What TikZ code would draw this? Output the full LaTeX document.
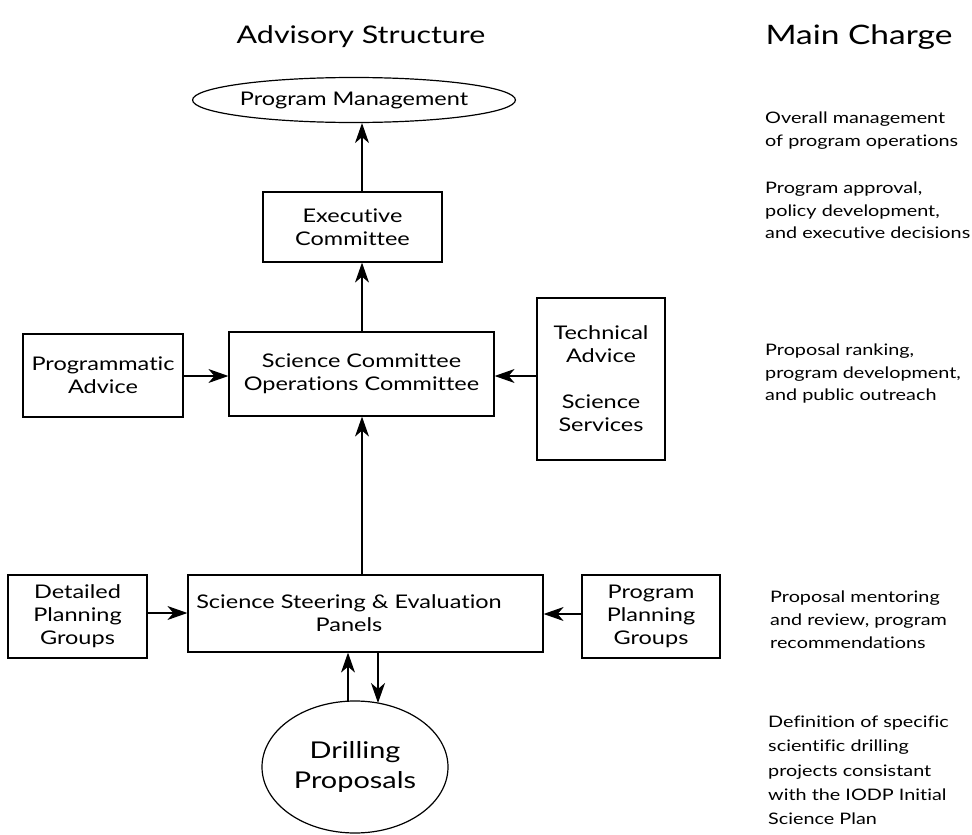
\documentclass[tikz,border=0pt]{standalone}
\usepackage{fontspec}
\setmainfont{Lato}[FakeStretch=1.25,Ligatures={NoCommon}]
\usetikzlibrary{arrows.meta,shapes.geometric}
\begin{document}
\begin{tikzpicture}[x=1pt,y=-1pt,
  box/.style={draw,line width=1.2pt,align=center,inner sep=0pt,font=\fontsize{18.8}{23}\selectfont},
  oval/.style={draw,ellipse,line width=1.2pt,align=center,inner sep=0pt},
  arr/.style={-{Stealth[length=20pt,width=14pt,inset=6pt]},line width=1.2pt},
  charge/.style={anchor=north west,align=left,inner sep=0pt,font=\fontsize{15.85}{22.5}\selectfont},
  title/.style={inner sep=0pt}]
\useasboundingbox (0,0) rectangle (972,835);
% titles
\node[title,font=\fontsize{24.3}{30}\selectfont] (t1) at (361,37) {Advisory Structure};
\node[title,font=\fontsize{26.8}{32}\selectfont] (t2) at (859,37) {Main Charge};
% nodes
\node[oval,minimum width=288pt,minimum height=45pt,font=\fontsize{18.8}{23}\selectfont] (pm) at (354,100) {Program Management};
\node[box,minimum width=179pt,minimum height=70pt] (exec) at (352.5,227) {Executive\\Committee};
\node[box,minimum width=265pt,minimum height=84pt] (sc) at (361.5,374) {Science Committee\\Operations Committee};
\node[box,minimum width=128pt,minimum height=162pt] (tech) at (601,379) {Technical\\Advice\\[23pt]Science\\Services};
\node[box,minimum width=160pt,minimum height=83pt] (prog) at (103,375.5) {Programmatic\\Advice};
\node[box,minimum width=355pt,minimum height=77pt] (ssep) at (365.5,613.5) {};
\node[inner sep=0pt,align=center,font=\fontsize{18.8}{23}\selectfont] (ssept) at (349,613) {Science Steering \& Evaluation\\Panels};
\node[box,minimum width=139pt,minimum height=83pt] (dpg) at (77.5,616.5) {Detailed\\Planning\\Groups};
\node[box,minimum width=138pt,minimum height=83pt] (ppg) at (651,616.5) {Program\\Planning\\Groups};
\node[oval,minimum width=186pt,minimum height=132pt,font=\fontsize{23.1}{30}\selectfont] (drill) at (355,767) {Drilling\\Proposals};
% charges
\node[charge] (c1) at (765,112) {Overall management\\of program operations};
\node[charge] (c2) at (765,182) {Program approval,\\policy development,\\and executive decisions};
\node[charge] (c3) at (765,344) {Proposal ranking,\\program development,\\and public outreach};
\node[charge,font=\fontsize{15.85}{23}\selectfont] (c4) at (770,591) {Proposal mentoring\\and review, program\\recommendations};
\node[charge,font=\fontsize{15.85}{24.2}\selectfont] (c5) at (768,716) {Definition of specific\\scientific drilling\\projects consistant\\with the IODP Initial\\Science Plan};
% connectors
\draw[arr] (362,0 |- exec.north) -- (362,0 |- pm.south);
\draw[arr] (362,0 |- sc.north) -- (362,0 |- exec.south);
\draw[arr] (362,0 |- ssep.north) -- (362,0 |- sc.south);
\draw[arr] (prog.east |- 0,376) -- (sc.west |- 0,376);
\draw[arr] (tech.west |- 0,376) -- (sc.east |- 0,376);
\draw[arr] (dpg.east |- 0,613) -- (ssep.west |- 0,613);
\draw[arr] (ppg.west |- 0,614) -- (ssep.east |- 0,614);
\draw[arr] (348,701) -- (348,0 |- ssep.south);
\draw[arr] (378,0 |- ssep.south) -- (378,703);
\end{tikzpicture}
\end{document}
